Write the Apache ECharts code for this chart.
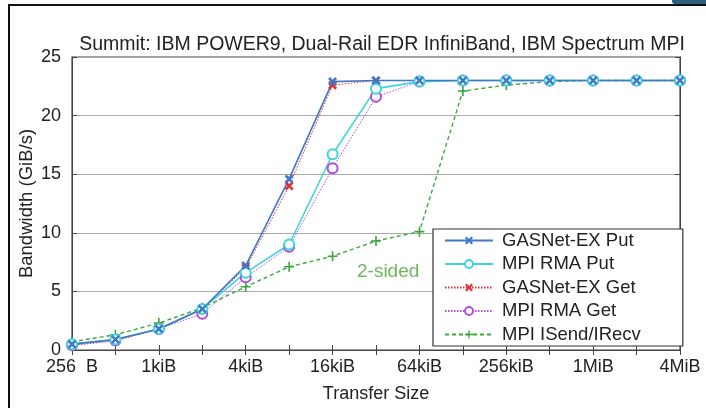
<!DOCTYPE html>
<html><head><meta charset="utf-8">
<script src="https://cdn.jsdelivr.net/npm/echarts@6/dist/echarts.min.js"></script>
<style>html,body{margin:0;padding:0;background:#fff}#c{width:706px;height:408px}</style>
</head><body><div id="c"></div>
<script>
var sizes = ['256  B','512 B','1kiB','2kiB','4kiB','8kiB','16kiB','32kiB','64kiB','128kiB','256kiB','512kiB','1MiB','2MiB','4MiB'];
var gasnetPut = [0.5, 0.9, 1.8, 3.5, 7.2, 14.6, 22.9, 23.0, 23.0, 23.0, 23.0, 23.0, 23.0, 23.0, 23.0];
var mpiRmaPut = [0.5, 0.9, 1.8, 3.5, 6.6, 9.0, 16.7, 22.3, 22.9, 23.0, 23.0, 23.0, 23.0, 23.0, 23.0];
var gasnetGet = [0.4, 0.8, 1.8, 3.5, 7.0, 14.0, 22.6, 23.0, 23.0, 23.0, 23.0, 23.0, 23.0, 23.0, 23.0];
var mpiRmaGet = [0.4, 0.8, 1.8, 3.1, 6.2, 8.8, 15.5, 21.6, 22.9, 23.0, 23.0, 23.0, 23.0, 23.0, 23.0];
var mpiIsend  = [0.7, 1.3, 2.3, 3.6, 5.4, 7.1, 8.0, 9.3, 10.1, 22.1, 22.6, 22.9, 23.0, 23.0, 23.0];
var yTicks = [0, 5, 10, 15, 20, 25];

var XSYM = 'path://M2,0 L5,3 L8,0 L10,2 L7,5 L10,8 L8,10 L5,7 L2,10 L0,8 L3,5 L0,2 Z';
var PSYM = 'path://M4.2,0 H5.8 V4.2 H10 V5.8 H5.8 V10 H4.2 V5.8 H0 V4.2 H4.2 Z';
var FONT = 'Liberation Sans, Arial, sans-serif';

var chart = echarts.init(document.getElementById('c'), null, {renderer:'canvas'});
function mk(name, data, color, type, width, sym, symSize) {
  return {
    name: name, type: 'line', data: data, color: color,
    symbol: sym, symbolSize: symSize, showAllSymbol: true,
    lineStyle: {color: color, width: width, type: type},
    itemStyle: {color: color, borderColor: color, borderWidth: sym === 'emptyCircle' ? 1.3 : 0},
    emphasis: {disabled: true}, animation: false
  };
}
chart.setOption({
  backgroundColor: '#fff',
  animation: false,
  title: {text: 'Summit: IBM POWER9, Dual-Rail EDR InfiniBand, IBM Spectrum MPI', left: 377, textAlign: 'center', top: 30,
    textStyle: {fontFamily: FONT, fontSize: 19.5, fontWeight: 'normal', color: '#222'}},
  grid: {left: 72, right: 26, top: 57, bottom: 58, show: true, borderColor: '#444', borderWidth: 1.2},
  legend: {
    orient: 'vertical', left: 433, top: 229,
    padding: [2, 42, 2, 11],
    backgroundColor: '#fff', borderColor: '#333', borderWidth: 1.2,
    itemWidth: 48, itemHeight: 10, itemGap: 4.5,
    textStyle: {fontFamily: FONT, fontSize: 18.5, lineHeight: 18.5, color: '#222', padding: [0, 0, 0, 4]},
    data: ['GASNet-EX Put','MPI RMA Put','GASNet-EX Get','MPI RMA Get','MPI ISend/IRecv']
  },
  xAxis: [{
    type: 'category', data: sizes, boundaryGap: false,
    name: 'Transfer Size', nameLocation: 'middle', nameGap: 35,
    nameTextStyle: {fontFamily: FONT, fontSize: 18, color: '#222'},
    axisLine: {lineStyle: {color: '#444'}},
    axisTick: {inside: true, length: 5, interval: 0, lineStyle: {color: '#444'}},
    axisLabel: {interval: 1, fontFamily: FONT, fontSize: 18, color: '#222', margin: 8}
  }, {
    type: 'category', data: sizes, boundaryGap: false, position: 'top',
    axisLine: {lineStyle: {color: '#444'}},
    axisTick: {inside: true, length: 5, interval: 0, lineStyle: {color: '#444'}},
    axisLabel: {show: false}
  }],
  yAxis: [{
    type: 'value', min: 0, max: 25, interval: 5,
    name: 'Bandwidth (GiB/s)', nameLocation: 'middle', nameGap: 36, nameMoveOverlap: false,
    nameTextStyle: {fontFamily: FONT, fontSize: 18.5, color: '#222'},
    axisLine: {show: true, lineStyle: {color: '#444'}},
    axisTick: {show: true, inside: true, length: 5, lineStyle: {color: '#444'}},
    axisLabel: {fontFamily: FONT, fontSize: 18, color: '#222', margin: 11,
      formatter: function(v){ return yTicks.indexOf(v) >= 0 ? String(v) : ''; }},
    splitLine: {show: true, lineStyle: {color: '#aaa', width: 1}}
  }, {
    type: 'value', min: 0, max: 25, interval: 5, position: 'right',
    axisLine: {show: true, lineStyle: {color: '#444'}},
    axisTick: {show: true, inside: true, length: 5, lineStyle: {color: '#444'}},
    axisLabel: {show: false}, splitLine: {show: false}
  }],
  graphic: [
    {type: 'rect', shape: {x: 9, y: 5, width: 720, height: 430}, style: {fill: 'none', stroke: '#111', lineWidth: 2}, silent: true},
    {type: 'rect', shape: {x: 672, y: -4, width: 40, height: 8, r: 3}, style: {fill: '#2d5f80'}, silent: true},
    {type: 'text', left: 357, top: 262, style: {text: '2-sided', fontFamily: FONT, fontSize: 19, fill: '#6cb85a'}, silent: true}
  ],
  series: [
    mk('MPI ISend/IRecv', mpiIsend, '#3aa83a', [4, 3], 1.4, PSYM, 10),
    mk('MPI RMA Get', mpiRmaGet, '#b24be0', [1.5, 1.5], 1, 'emptyCircle', 10),
    mk('GASNet-EX Get', gasnetGet, '#e0303a', [1.5, 1.5], 1, XSYM, 9),
    mk('MPI RMA Put', mpiRmaPut, '#3ed6da', 'solid', 1.6, 'emptyCircle', 10),
    mk('GASNet-EX Put', gasnetPut, '#3f78c8', 'solid', 1.6, XSYM, 9)
  ]
});
</script></body></html>
